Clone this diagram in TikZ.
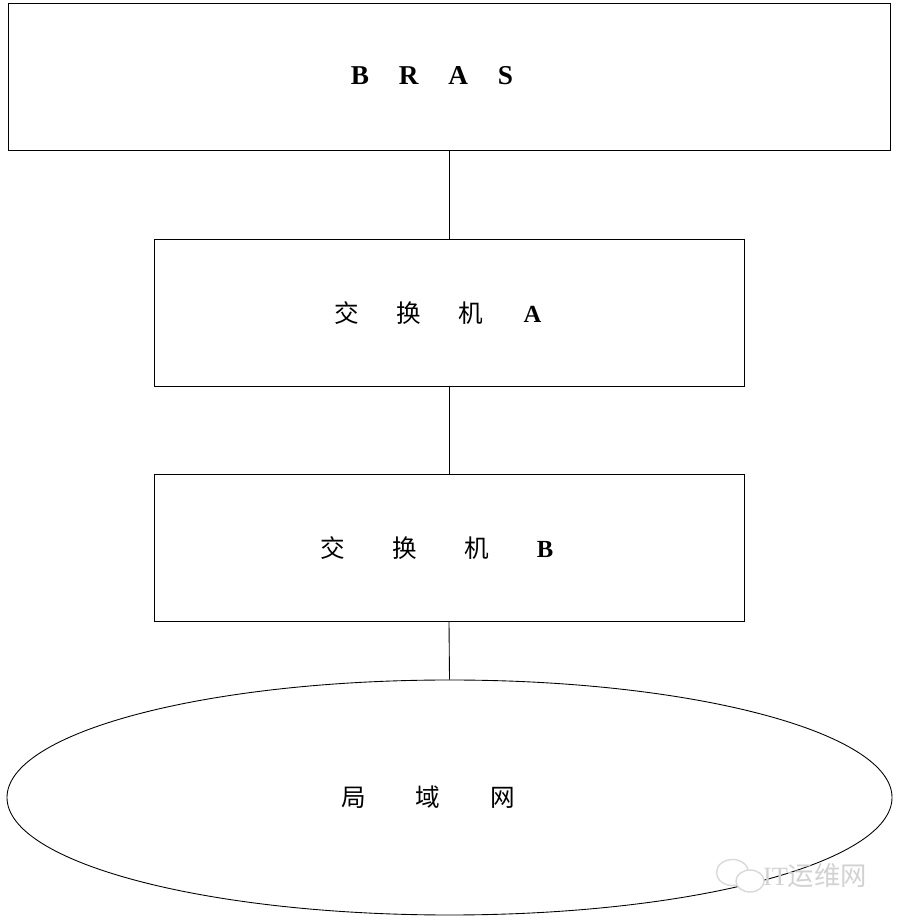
\documentclass[tikz,border=0pt]{standalone}
\usepackage{fontspec}
\setmainfont{Liberation Serif}
\newfontfamily\cjk{Noto Sans CJK SC}
\usepackage{tikz}
\usetikzlibrary{shapes.geometric}

\tikzset{
  box/.style={draw, line width=0.5pt, minimum height=2.94cm, inner sep=0pt},
  lbl/.style={inner sep=0pt, font=\fontsize{14}{16}\selectfont},
}

\begin{document}
\begin{tikzpicture}
    \useasboundingbox (0,0) rectangle (18,18.4);
    \node [box, minimum width=17.64cm] (bras) at (8.98,16.87) {};
    \node [box, minimum width=11.8cm] (swa) at (8.98,12.15) {};
    \node [box, minimum width=11.8cm] (swb) at (8.98,7.44) {};
    \node [draw, ellipse, line width=0.5pt, minimum width=17.7cm, minimum height=4.7cm, inner sep=0pt] (lan) at (8.99,2.45) {};
    \draw [line width=0.5pt] (bras.south) -- (swa.north);
    \draw [line width=0.5pt] (swa.south) -- (swb.north);
    \draw [line width=0.5pt] (swb.south) -- (lan.north);
    \node [lbl, font=\fontsize{15.5}{18}\selectfont\bfseries] (brastext) at (8.64,16.88) {B\hspace{17pt}R\hspace{17pt}A\hspace{17pt}S};
    \node [lbl] (swatext) at (8.76,12.14) {{\cjk 交\hspace{0.75cm}换\hspace{0.75cm}机}\hspace{0.8cm}\textbf{A}};
    \node [lbl] (swbtext) at (8.74,7.44) {{\cjk 交\hspace{0.95cm}换\hspace{0.95cm}机}\hspace{0.95cm}\textbf{B}};
    \node [lbl] (lantext) at (8.56,2.45) {\cjk 局\hspace{1cm}域\hspace{1cm}网};
    % watermark
    \draw [gray!30, line width=0.8pt] (14.65,0.95) ellipse [x radius=0.32, y radius=0.26];
    \draw [gray!30, line width=0.8pt, fill=white] (15.0,0.78) ellipse [x radius=0.28, y radius=0.22];
    \node [lbl, text=gray!35, font=\fontsize{15}{17}\selectfont] (mark) at (16.3,0.88) {IT{\cjk 运维网}};
\end{tikzpicture}
\end{document}
